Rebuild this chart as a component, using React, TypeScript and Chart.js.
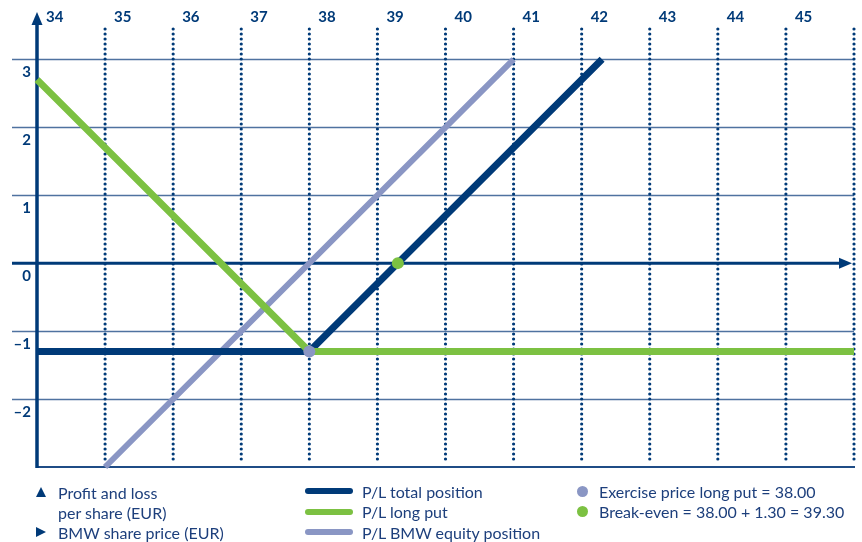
import React, { useEffect, useRef } from "react";
import { Chart, registerables } from "chart.js";

Chart.register(...registerables);

// ---- data ----
const xMin = 34;
const xMax = 46;
const yMin = -3;
const yMax = 3.46;

const xTickValues = [34, 35, 36, 37, 38, 39, 40, 41, 42, 43, 44, 45];
const xTickLabels = ["34", "35", "36", "37", "38", "39", "40", "41", "42", "43", "44", "45"];
const dottedXValues = [35, 36, 37, 38, 39, 40, 41, 42, 43, 44, 45, 46];
const yTickValues = [3, 2, 1, 0, -1, -2];
const yTickLabels = ["3", "2", "1", "0", "–1", "–2"];
const gridYValues = [3, 2, 1, -1, -2];

const totalX = [34, 38, 42.3];
const totalY = [-1.3, -1.3, 3];
const putX = [34, 38, 46];
const putY = [2.7, -1.3, -1.3];
const equityX = [35, 41];
const equityY = [-3, 3];
const exerciseX = [38];
const exerciseY = [-1.3];
const breakEvenX = [39.3];
const breakEvenY = [0];

const DARK = "#003a78";
const GREEN = "#7cc142";
const GREY = "#8a96c4";
const TEXT = "#1d3f7c";

const lineLegend = [
  { label: "P/L total position", color: DARK },
  { label: "P/L long put", color: GREEN },
  { label: "P/L BMW equity position", color: GREY },
];
const pointLegend = [
  { label: "Exercise price long put = 38.00", color: GREY },
  { label: "Break-even = 38.00 + 1.30 = 39.30", color: GREEN },
];
const axisLegend = [
  { dir: "up", lines: ["Profit and loss", "per share (EUR)"] },
  { dir: "right", lines: ["BMW share price (EUR)"] },
];

const zip = (xs: number[], ys: number[]) => xs.map((x, i) => ({ x, y: ys[i] }));

const axesPlugin = {
  id: "axesPlugin",
  beforeDatasetsDraw(chart: any) {
    const { ctx, chartArea } = chart;
    const x = chart.scales.x;
    const y = chart.scales.y;
    const left = x.getPixelForValue(xMin);
    const right = chartArea.right;
    const bottom = y.getPixelForValue(yMin);
    ctx.save();
    // horizontal grid lines
    ctx.strokeStyle = "#4f72a0";
    ctx.lineWidth = 1.4;
    gridYValues.forEach((v) => {
      const py = Math.round(y.getPixelForValue(v)) + 0.5;
      ctx.beginPath();
      ctx.moveTo(left - 25, py);
      ctx.lineTo(right, py);
      ctx.stroke();
    });
    // dotted vertical lines
    ctx.strokeStyle = DARK;
    ctx.lineWidth = 3.2;
    ctx.lineCap = "round";
    ctx.setLineDash([0, 5]);
    dottedXValues.forEach((v) => {
      const px = x.getPixelForValue(v);
      ctx.beginPath();
      ctx.moveTo(px, chartArea.top + 1);
      ctx.lineTo(px, bottom - 4);
      ctx.stroke();
    });
    ctx.setLineDash([]);
    ctx.lineCap = "butt";
    // bottom line
    ctx.strokeStyle = "#1f4c86";
    ctx.lineWidth = 2;
    ctx.beginPath();
    ctx.moveTo(left, bottom);
    ctx.lineTo(right + 1, bottom);
    ctx.stroke();
    // zero line with arrow
    const y0 = y.getPixelForValue(0);
    ctx.strokeStyle = DARK;
    ctx.fillStyle = DARK;
    ctx.lineWidth = 3;
    ctx.beginPath();
    ctx.moveTo(left - 25, y0);
    ctx.lineTo(right - 12, y0);
    ctx.stroke();
    ctx.beginPath();
    ctx.moveTo(right - 2, y0);
    ctx.lineTo(right - 15, y0 - 5.5);
    ctx.lineTo(right - 15, y0 + 5.5);
    ctx.closePath();
    ctx.fill();
    // y axis with arrow
    ctx.lineWidth = 3.5;
    ctx.beginPath();
    ctx.moveTo(left, bottom + 1);
    ctx.lineTo(left, chartArea.top - 4);
    ctx.stroke();
    ctx.beginPath();
    ctx.moveTo(left, chartArea.top - 16);
    ctx.lineTo(left - 5.5, chartArea.top - 3);
    ctx.lineTo(left + 5.5, chartArea.top - 3);
    ctx.closePath();
    ctx.fill();
    ctx.restore();
  },
};

export default function App() {
  const ref = useRef<HTMLCanvasElement | null>(null);

  useEffect(() => {
    if (!ref.current) return;
    const chart = new Chart(ref.current, {
      type: "scatter",
      data: {
        datasets: [
          {
            label: "Exercise price long put",
            data: zip(exerciseX, exerciseY),
            pointRadius: 6,
            pointBackgroundColor: GREY,
            pointBorderWidth: 0,
            showLine: false,
          },
          {
            label: "Break-even",
            data: zip(breakEvenX, breakEvenY),
            pointRadius: 6,
            pointBackgroundColor: GREEN,
            pointBorderWidth: 0,
            showLine: false,
          },
          {
            label: "P/L long put",
            data: zip(putX, putY),
            showLine: true,
            borderColor: GREEN,
            borderWidth: 7,
            pointRadius: 0,
            borderJoinStyle: "miter",
            clip: false,
          },
          {
            label: "P/L total position",
            data: zip(totalX, totalY),
            showLine: true,
            borderColor: DARK,
            borderWidth: 7,
            pointRadius: 0,
            borderJoinStyle: "miter",
            clip: false,
          },
          {
            label: "P/L BMW equity position",
            data: zip(equityX, equityY),
            showLine: true,
            borderColor: GREY,
            borderWidth: 6,
            pointRadius: 0,
            clip: false,
          },
        ] as any,
      },
      options: {
        animation: false,
        responsive: false,
        devicePixelRatio: 1,
        layout: { padding: { left: 0, right: 8, top: 0, bottom: 75 } },
        plugins: { legend: { display: false }, tooltip: { enabled: false } },
        scales: {
          x: {
            type: "linear",
            position: "top",
            min: xMin,
            max: xMax,
            grid: { display: false, drawTicks: false },
            border: { display: false },
            afterBuildTicks: (s: any) => {
              s.ticks = xTickValues.map((v) => ({ value: v }));
            },
            afterFit: (s: any) => {
              s.height = 28;
            },
            ticks: {
              autoSkip: false,
              maxRotation: 0,
              align: "start",
              labelOffset: 9,
              padding: 2,
              color: DARK,
              font: { family: "Lato, 'Open Sans', sans-serif", size: 15, weight: "bold" },
              callback: (v: any) => {
                const i = xTickValues.indexOf(Number(v));
                return i >= 0 ? xTickLabels[i] : "";
              },
            },
          },
          y: {
            type: "linear",
            min: yMin,
            max: yMax,
            grid: { display: false, drawTicks: false },
            border: { display: false },
            afterBuildTicks: (s: any) => {
              s.ticks = yTickValues.map((v) => ({ value: v }));
            },
            afterFit: (s: any) => {
              s.width = 37;
            },
            ticks: {
              autoSkip: false,
              padding: 6,
              labelOffset: 13,
              color: DARK,
              font: { family: "Lato, 'Open Sans', sans-serif", size: 15, weight: "bold" },
              callback: (v: any) => {
                const i = yTickValues.indexOf(Number(v));
                return i >= 0 ? yTickLabels[i] : "";
              },
            },
          },
        },
      } as any,
      plugins: [axesPlugin],
    });
    return () => chart.destroy();
  }, []);

  const rowStyle = (top: number, left: number): React.CSSProperties => ({
    position: "absolute",
    top,
    left,
    height: 20,
    display: "flex",
    alignItems: "center",
    whiteSpace: "nowrap",
  });

  const tri = (dir: string): React.CSSProperties =>
    dir === "up"
      ? {
          width: 0,
          height: 0,
          borderLeft: "5px solid transparent",
          borderRight: "5px solid transparent",
          borderBottom: `10px solid ${DARK}`,
          marginRight: 12,
        }
      : {
          width: 0,
          height: 0,
          borderTop: "5px solid transparent",
          borderBottom: "5px solid transparent",
          borderLeft: `10px solid ${DARK}`,
          marginRight: 12,
        };

  return (
    <div
      style={{
        position: "absolute",
        left: 0,
        top: 0,
        width: 862,
        height: 542,
        background: "#ffffff",
        fontFamily: "Lato, 'Open Sans', sans-serif",
        fontSize: 16,
        color: TEXT,
      }}
    >
      <canvas ref={ref} width={862} height={542} style={{ display: "block" }} />
      {/* axis legend */}
      <div style={rowStyle(482, 36)}>
        <span style={tri(axisLegend[0].dir)} />
        <span>{axisLegend[0].lines[0]}</span>
      </div>
      <div style={rowStyle(502, 58)}>
        <span>{axisLegend[0].lines[1]}</span>
      </div>
      <div style={rowStyle(522, 36)}>
        <span style={tri(axisLegend[1].dir)} />
        <span>{axisLegend[1].lines[0]}</span>
      </div>
      {/* line legend */}
      {lineLegend.map((l, i) => (
        <div key={l.label} style={rowStyle(481 + i * 20.5, 305)}>
          <span
            style={{
              display: "inline-block",
              width: 48,
              height: 6,
              borderRadius: 3,
              background: l.color,
              marginRight: 9,
            }}
          />
          <span>{l.label}</span>
        </div>
      ))}
      {/* point legend */}
      {pointLegend.map((l, i) => (
        <div key={l.label} style={rowStyle(481 + i * 20.5, 577)}>
          <span
            style={{
              display: "inline-block",
              width: 11,
              height: 11,
              borderRadius: "50%",
              background: l.color,
              marginRight: 11,
            }}
          />
          <span>{l.label}</span>
        </div>
      ))}
    </div>
  );
}
